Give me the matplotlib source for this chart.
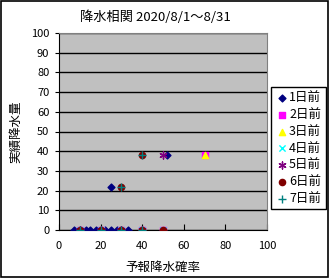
import matplotlib
matplotlib.use("Agg")
import matplotlib.pyplot as plt
from matplotlib.patches import Rectangle

plt.rcParams['font.family'] = ['Noto Sans CJK JP', 'DejaVu Sans']

title = "降水相関 2020/8/1～8/31"
xlabel = "予報降水確率"
ylabel = "実績降水量"

# forecast probability (x) and observed rainfall (y) for each lead day
d1_x = [7, 10, 13, 15, 18, 20, 22, 25, 28, 30, 33, 25, 52]
d1_y = [0, 0, 0, 0, 0, 0, 0, 0, 0, 0, 0, 22, 38]
d2_x = [10, 20, 30, 40, 50, 70]
d2_y = [0, 0, 0, 0, 0, 38]
d3_x = [70]
d3_y = [38]
d4_x = [10, 20, 30, 40, 50]
d4_y = [0, 0, 0, 0, 0]
d5_x = [10, 20, 30, 40, 50]
d5_y = [0, 0, 0, 0, 38]
d6_x = [10, 20, 30, 40, 50, 30, 40]
d6_y = [0, 0, 0, 0, 0, 22, 38]
d7_x = [10, 20, 30, 40, 30, 40]
d7_y = [0, 0, 0, 0, 22, 38]

labels = ["1日前", "2日前", "3日前", "4日前", "5日前", "6日前", "7日前"]

fig = plt.figure(figsize=(3.29, 2.78), dpi=100)
ax = fig.add_axes([59/329, 1-230/278, 208/329, 197/278])
ax.set_facecolor("#c0c0c0")

ax.scatter(d1_x, d1_y, marker="D", s=12, c="#000080", label=labels[0], zorder=3)
ax.scatter(d2_x, d2_y, marker="s", s=14, c="#ff00ff", label=labels[1], zorder=3)
ax.scatter(d3_x, d3_y, marker="^", s=20, c="#ffff00", label=labels[2], zorder=3)
ax.scatter(d4_x, d4_y, marker="x", s=20, c="#00ffff", linewidths=1, label=labels[3], zorder=3)
ax.scatter(d5_x, d5_y, marker=(6, 2, 0), s=26, c="#800080", linewidths=1, label=labels[4], zorder=3)
ax.scatter(d6_x, d6_y, marker="o", s=20, c="#800000", label=labels[5], zorder=3)
ax.scatter(d7_x, d7_y, marker="+", s=28, c="#008080", linewidths=1, label=labels[6], zorder=3)

ax.set_xlim(0, 100)
ax.set_ylim(0, 100)
ax.set_xticks(range(0, 101, 20))
ax.set_yticks(range(0, 101, 10))
ax.yaxis.grid(True, color="black", linewidth=1)
ax.set_axisbelow(True)
ax.tick_params(axis="x", direction="in", length=4, labelsize=8, pad=8)
ax.tick_params(axis="y", direction="out", length=3, labelsize=8, pad=4)
for s in ["top", "right"]:
    ax.spines[s].set_color("#808080")
for s in ["left", "bottom"]:
    ax.spines[s].set_color("black")

ax.set_xlabel(xlabel, fontsize=9, labelpad=7)
ax.set_ylabel(ylabel, fontsize=9, labelpad=6)
fig.text(155/329, 1-17/278, title, ha="center", va="center", fontsize=9.5)

leg = ax.legend(loc="upper left", bbox_to_anchor=(271/329, 1-87/278),
                bbox_transform=fig.transFigure, fontsize=9, frameon=True,
                fancybox=False, edgecolor="black", framealpha=1,
                handletextpad=0.0, handlelength=1.1, borderpad=0.35,
                labelspacing=0.3, borderaxespad=0)
leg.get_frame().set_linewidth(1)

fig.patches.append(Rectangle((0.002, 0.002), 0.995, 0.995, transform=fig.transFigure,
                             fill=False, edgecolor="black", linewidth=1.2))

fig.savefig("out.png", dpi=100)
